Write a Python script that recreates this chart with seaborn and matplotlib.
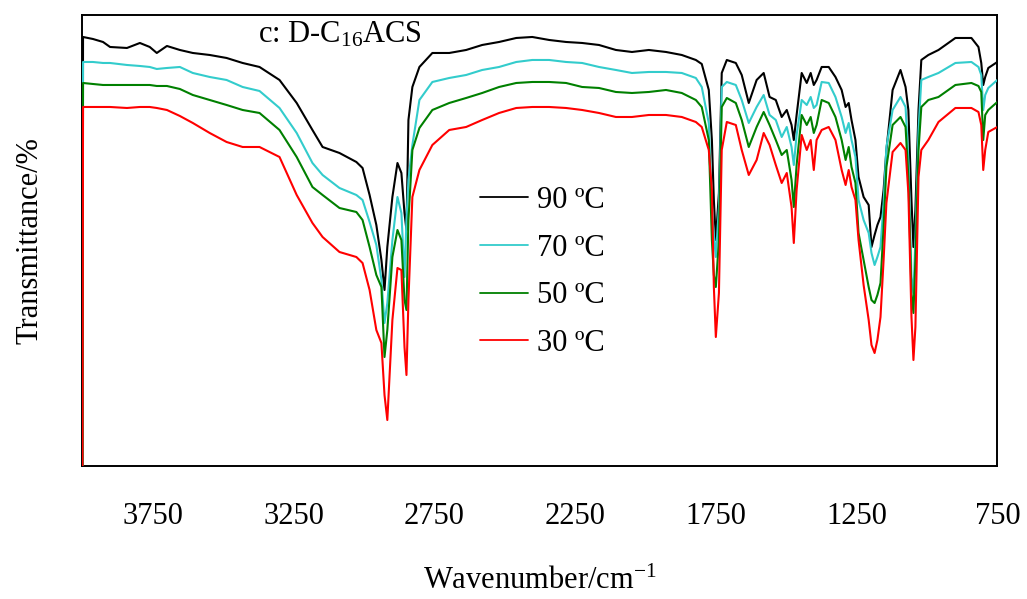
import matplotlib
matplotlib.use("Agg")
import matplotlib.pyplot as plt
import numpy as np
import pandas as pd
import seaborn as sns

# FTIR spectra of D-C16ACS recorded at four temperatures (offset traces)
wavenumber = [
    4000,
    3998, 3963, 3927, 3902, 3842, 3796, 3761, 3736, 3700, 3654,
    3608, 3548, 3488, 3431, 3371, 3300, 3239, 3183, 3147, 3087,
    3027, 3005, 2980, 2956, 2938, 2927, 2917, 2899, 2881, 2867,
    2856, 2849, 2842, 2828, 2803, 2757, 2697, 2637, 2580, 2520,
    2459, 2402, 2342, 2282, 2225, 2165, 2105, 2048, 1988, 1927,
    1871, 1821, 1800, 1775, 1764, 1757, 1750, 1739, 1729, 1711,
    1679, 1658, 1633, 1605, 1580, 1559, 1537, 1516, 1498, 1481,
    1473, 1463, 1445, 1427, 1413, 1402, 1392, 1374, 1349, 1325,
    1303, 1289, 1278, 1268, 1254, 1243, 1225, 1207, 1197, 1186,
    1176, 1165, 1154, 1144, 1122, 1094, 1076, 1066, 1055, 1048,
    1041, 1030, 1020, 995, 959, 899, 842, 817, 807, 800,
    793, 782, 750,
]

t90 = [
    0.0,
    85.8, 85.4, 84.8, 83.8, 83.6, 84.6, 83.8, 82.6, 84.0, 83.2,
    82.6, 82.2, 81.6, 80.6, 79.8, 77.2, 72.6, 67.2, 63.8, 62.6,
    60.8, 59.6, 54.2, 48.2, 41.2, 35.2, 43.8, 53.8, 60.6, 58.6,
    50.6, 47.2, 69.2, 75.8, 79.8, 82.6, 82.6, 83.2, 84.2, 84.8,
    85.6, 85.8, 85.2, 84.8, 84.6, 84.2, 83.2, 82.8, 83.2, 82.8,
    82.2, 81.2, 80.4, 75.2, 65.2, 53.2, 45.2, 54.6, 78.6, 81.2,
    80.6, 78.2, 72.6, 77.2, 78.6, 73.8, 73.2, 69.8, 71.2, 68.2,
    65.2, 70.2, 78.6, 76.6, 78.6, 76.2, 77.2, 79.8, 79.8, 77.8,
    75.2, 71.8, 72.6, 69.2, 65.2, 57.8, 53.8, 52.2, 43.8, 46.2,
    48.2, 49.8, 55.2, 63.2, 75.2, 79.2, 75.8, 71.2, 53.2, 43.8,
    51.2, 71.2, 81.2, 82.2, 83.2, 85.6, 85.6, 83.8, 80.6, 76.2,
    77.8, 79.6, 80.8,
]

t70 = [
    0.0,
    80.8, 80.8, 80.6, 80.6, 80.2, 80.0, 79.8, 79.4, 79.6, 79.8,
    78.6, 77.8, 77.2, 75.8, 75.0, 71.6, 66.6, 60.6, 58.2, 55.6,
    54.2, 53.2, 48.8, 44.2, 37.2, 28.6, 32.6, 45.2, 53.8, 50.6,
    37.8, 49.2, 57.2, 64.2, 73.2, 76.8, 77.6, 78.2, 79.2, 79.8,
    80.8, 81.2, 81.2, 80.8, 80.6, 79.8, 79.2, 78.6, 78.8, 78.8,
    78.6, 77.6, 75.8, 68.6, 51.8, 46.2, 41.8, 51.8, 75.8, 76.8,
    76.2, 73.2, 68.6, 71.8, 74.2, 70.2, 69.2, 65.8, 67.8, 63.8,
    60.2, 66.2, 73.2, 72.2, 73.8, 71.6, 72.2, 76.8, 76.6, 73.8,
    69.8, 66.6, 68.6, 65.2, 61.8, 53.2, 49.2, 46.6, 42.6, 40.2,
    41.8, 43.8, 52.6, 63.8, 71.2, 73.8, 71.8, 61.2, 37.8, 34.6,
    45.2, 67.2, 77.2, 77.8, 78.6, 80.6, 80.8, 79.8, 78.2, 71.2,
    74.2, 75.6, 77.2,
]

t50 = [
    0.0,
    76.6, 76.4, 76.2, 76.2, 76.2, 76.2, 76.2, 76.0, 76.0, 75.4,
    74.2, 73.2, 72.2, 71.2, 70.6, 67.2, 61.8, 55.8, 54.2, 51.6,
    50.8, 49.2, 43.8, 38.2, 35.8, 21.8, 27.2, 41.8, 47.2, 45.2,
    33.2, 31.2, 49.2, 63.2, 67.6, 71.2, 72.6, 73.6, 74.6, 75.8,
    76.6, 76.8, 76.8, 76.6, 75.8, 75.6, 74.8, 74.6, 74.8, 75.2,
    74.6, 73.2, 71.8, 65.2, 45.2, 38.2, 35.8, 45.2, 71.8, 73.6,
    72.6, 69.2, 63.8, 67.8, 70.8, 68.2, 65.2, 62.2, 63.2, 57.2,
    51.8, 60.2, 70.2, 68.2, 69.8, 66.6, 68.2, 73.2, 72.6, 69.8,
    65.2, 61.2, 63.8, 59.8, 56.6, 46.6, 41.2, 35.8, 33.2, 32.6,
    34.2, 36.6, 47.8, 59.8, 68.2, 69.8, 67.8, 57.8, 34.6, 30.6,
    41.2, 63.2, 71.8, 73.2, 73.8, 76.2, 76.6, 76.0, 74.8, 65.2,
    70.2, 71.2, 72.8,
]

t30 = [
    0.0,
    71.8, 71.8, 71.8, 71.8, 71.6, 71.8, 71.8, 71.6, 71.2, 70.0,
    68.6, 66.6, 64.8, 63.8, 63.8, 61.8, 54.2, 48.6, 45.8, 42.8,
    41.8, 40.6, 35.2, 27.2, 24.6, 14.2, 9.2, 29.2, 39.6, 39.2,
    23.8, 18.2, 33.2, 53.8, 59.2, 64.2, 67.2, 67.8, 69.2, 70.6,
    71.6, 71.8, 71.8, 71.6, 71.2, 70.6, 69.8, 69.8, 70.2, 70.2,
    69.8, 68.8, 67.8, 63.2, 55.2, 35.8, 25.8, 34.6, 63.2, 68.8,
    68.2, 63.2, 58.2, 61.2, 66.6, 64.2, 60.2, 56.6, 58.6, 51.8,
    44.6, 55.2, 66.2, 63.2, 65.2, 59.2, 65.2, 67.2, 67.8, 65.2,
    59.2, 56.2, 59.2, 55.8, 53.2, 45.2, 36.2, 29.2, 24.2, 22.6,
    25.2, 29.8, 41.2, 52.6, 62.8, 64.6, 63.2, 54.6, 29.8, 21.2,
    27.8, 57.8, 63.2, 65.2, 68.8, 71.6, 71.6, 70.8, 68.2, 59.2,
    63.2, 66.8, 67.8,
]

temperatures = ["90 ºC", "70 ºC", "50 ºC", "30 ºC"]
colors = ["#000000", "#33CCCC", "#008000", "#FF0000"]
xticks = [3750, 3250, 2750, 2250, 1750, 1250, 750]

series = [t90, t70, t50, t30]
df = pd.concat(
    [pd.DataFrame({"wavenumber": wavenumber, "T": vals, "temp": name})
     for name, vals in zip(temperatures, series)],
    ignore_index=True,
)

sns.set_style("white")
plt.rcParams["font.family"] = ["Liberation Serif", "DejaVu Serif"]
plt.rcParams["mathtext.fontset"] = "custom"
plt.rcParams["mathtext.rm"] = "Liberation Serif"
plt.rcParams["mathtext.it"] = "Liberation Serif:italic"
plt.rcParams["text.color"] = "black"
plt.rcParams["axes.labelcolor"] = "black"
plt.rcParams["xtick.color"] = "black"

fig, ax = plt.subplots(figsize=(10.27, 5.99), dpi=100)
fig.subplots_adjust(left=0.0803, right=0.9711, bottom=0.222, top=0.975)

sns.lineplot(data=df, x="wavenumber", y="T", hue="temp",
             hue_order=temperatures, palette=colors, sort=False,
             estimator=None, linewidth=1.5, ax=ax)
# traces sit above the frame
for line in ax.lines:
    line.set_zorder(3)

ax.set_xlim(4000, 750)
ax.set_ylim(0, 90.2)
ax.set_xticks(xticks)
ax.set_xticklabels([str(t) for t in xticks])
ax.set_yticks([])
ax.tick_params(axis="x", direction="in", length=7, width=1.3,
               pad=26, labelsize=22, colors="black")

for s in ax.spines.values():
    s.set_visible(True)
    s.set_color("black")
    s.set_linewidth(1.4)

ax.set_xlabel("Wavenumber/cm$^{-1}$", fontsize=22, labelpad=26)
ax.set_ylabel("Transmittance/%", fontsize=22, labelpad=27)

ax.text(0.192, 0.938, "c: D-C$_{16}$ACS", transform=ax.transAxes,
        fontsize=22, ha="left", va="baseline")

handles, labels = ax.get_legend_handles_labels()
leg = ax.legend(handles, labels, loc="center", bbox_to_anchor=(0.503, 0.43),
                frameon=False, fontsize=22, handlelength=1.55,
                handletextpad=0.3, labelspacing=0.61)
for line in leg.get_lines():
    line.set_linewidth(1.3)

fig.savefig("out.png", dpi=100)
